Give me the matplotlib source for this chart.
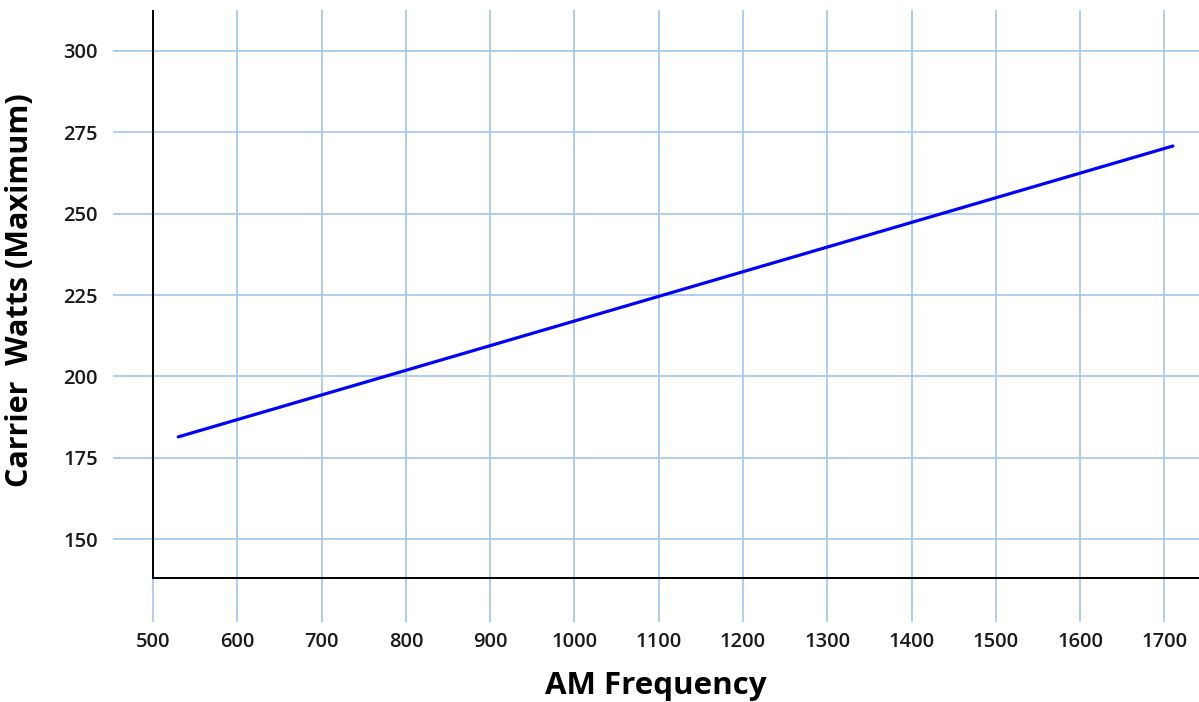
import matplotlib.pyplot as plt

# data
freq = [530, 1710]
watts = [181.4, 270.8]
x_ticks = [500, 600, 700, 800, 900, 1000, 1100, 1200, 1300, 1400, 1500, 1600, 1700]
y_ticks = [150, 175, 200, 225, 250, 275, 300]

plt.rcParams['font.family'] = ['Open Sans', 'DejaVu Sans']

fig = plt.figure(figsize=(11.99, 7.02), dpi=100)
ax = fig.add_axes([113 / 1199, 80 / 702, 1 - 113 / 1199, 612 / 702])

ax.plot(freq, watts, color='#0000ff', linewidth=2.3, solid_capstyle='round', zorder=3)

ax.set_xlim(452.5, 1741)
ax.set_ylim(124.5, 312.6)
ax.set_xticks(x_ticks)
ax.set_yticks(y_ticks)
ax.grid(True, color='#a9c9ea', linewidth=1.3)
ax.set_axisbelow(True)

# the frame lines sit inside the grid, at x=500 and y=138
for s in ax.spines.values():
    s.set_visible(False)
ax.axvline(500, ymin=(138 - 124.5) / (312.6 - 124.5), ymax=1, color='black', linewidth=1.4, zorder=4)
ax.axhline(138, xmin=(500 - 452.5) / (1741 - 452.5), xmax=1, color='black', linewidth=1.4, zorder=4)

ax.tick_params(length=0, labelsize=14.5, colors='#1a1a1a')
ax.tick_params(axis='x', pad=7)
ax.tick_params(axis='y', pad=11)
for lab in ax.get_xticklabels() + ax.get_yticklabels():
    lab.set_fontweight('semibold')

ax.set_xlabel('AM Frequency', fontsize=22.5, fontweight='bold', labelpad=14)
ax.set_ylabel('Carrier  Watts (Maximum)', fontsize=22, fontweight='bold')
ax.yaxis.set_label_coords(-0.072, 0.542)

fig.savefig('out.png', dpi=100)
